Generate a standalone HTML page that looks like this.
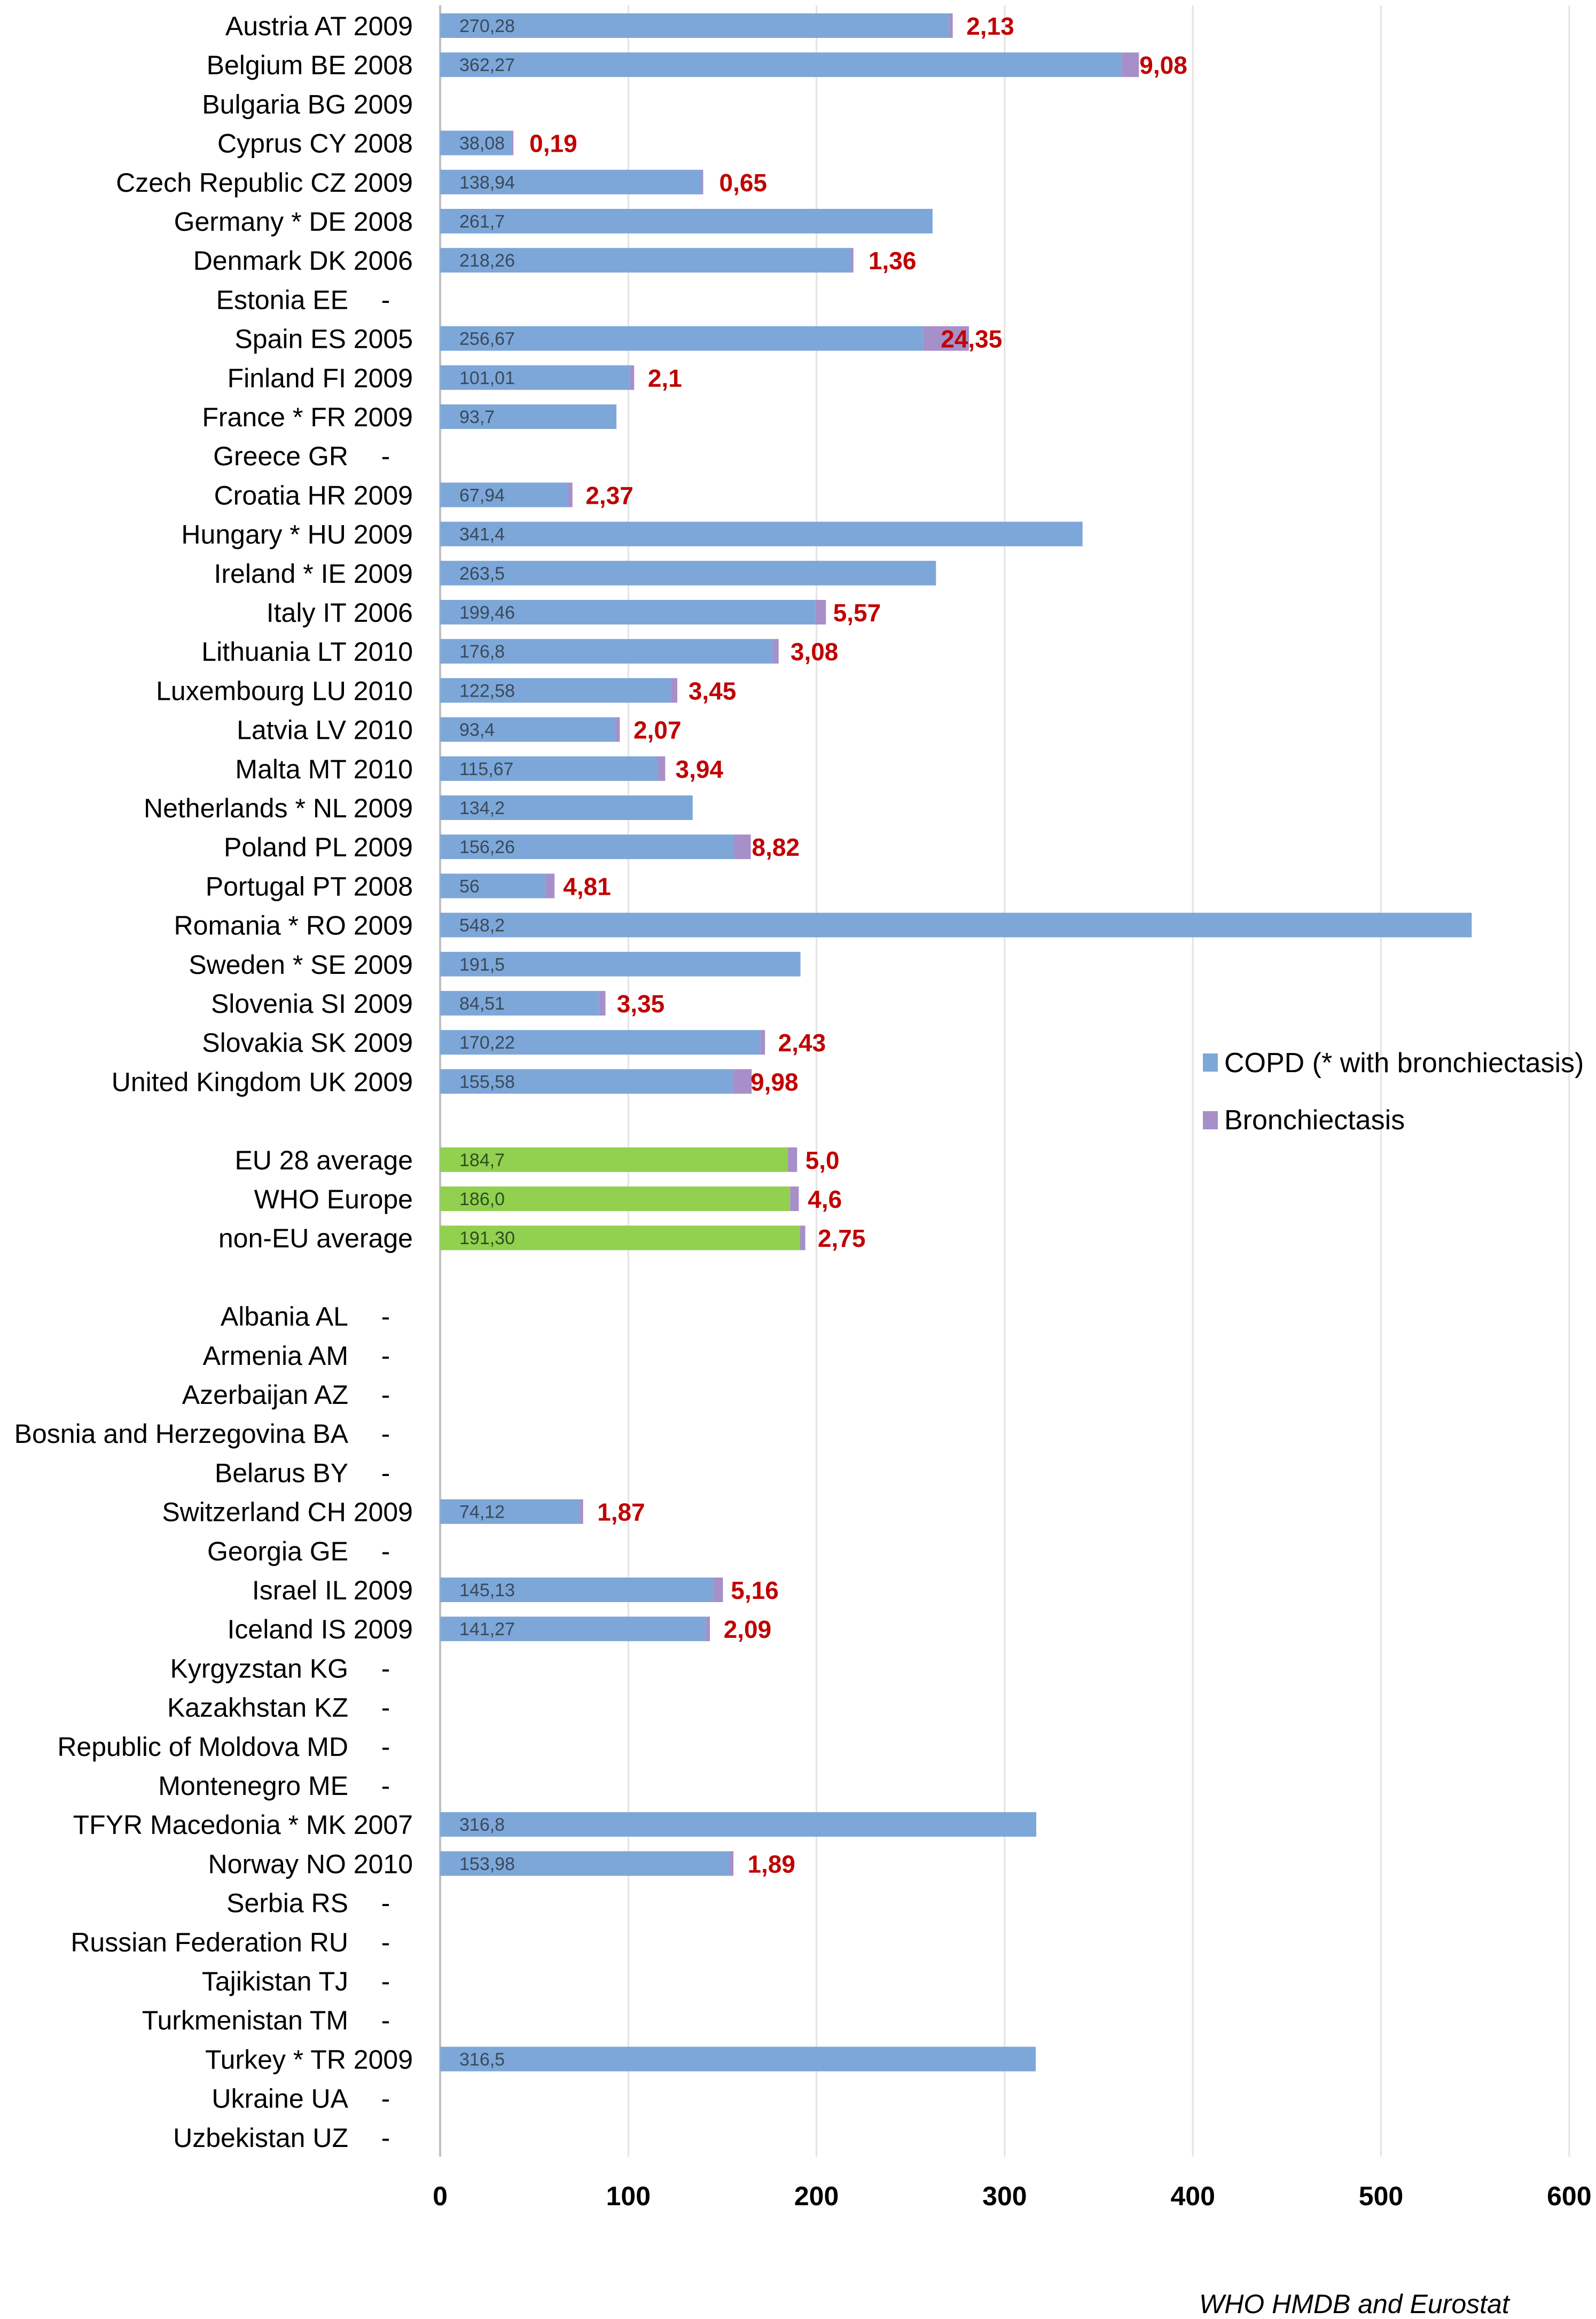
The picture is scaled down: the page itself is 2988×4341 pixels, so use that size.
<!DOCTYPE html>
<html><head><meta charset="utf-8"><style>
html,body{margin:0;padding:0;background:#fff;}
svg{display:block;font-family:"Liberation Sans",sans-serif;}
</style></head><body>
<svg id="chart" width="2988" height="4341" viewBox="0 0 2988 4341" xmlns="http://www.w3.org/2000/svg">
<g id="grid"></g>
<g id="bars"></g>
<g id="labels"></g>
<g id="ticks"></g>
<g>
  <rect x="2252" y="1972" width="28" height="34" fill="#7da7d8"/>
  <text x="2292" y="2007" font-size="52" fill="#000">COPD (* with bronchiectasis)</text>
  <rect x="2252" y="2080" width="28" height="34" fill="#a78fc9"/>
  <text x="2292" y="2114" font-size="52" fill="#000">Bronchiectasis</text>
</g>
<text x="2245" y="4330" font-size="50" font-style="italic" fill="#000">WHO HMDB and Eurostat</text>
</svg>
<script>
const names = ["Austria AT 2009","Belgium BE 2008","Bulgaria BG 2009","Cyprus CY 2008","Czech Republic CZ 2009","Germany * DE 2008","Denmark DK 2006","Estonia EE","Spain ES 2005","Finland FI 2009","France * FR 2009","Greece GR","Croatia HR 2009","Hungary * HU 2009","Ireland * IE 2009","Italy IT 2006","Lithuania LT 2010","Luxembourg LU 2010","Latvia LV 2010","Malta MT 2010","Netherlands * NL 2009","Poland PL 2009","Portugal PT 2008","Romania * RO 2009","Sweden * SE 2009","Slovenia SI 2009","Slovakia SK 2009","United Kingdom UK 2009","","EU 28 average","WHO Europe","non-EU average","","Albania AL","Armenia AM","Azerbaijan AZ","Bosnia and Herzegovina BA","Belarus BY","Switzerland CH 2009","Georgia GE","Israel IL 2009","Iceland IS 2009","Kyrgyzstan KG","Kazakhstan KZ","Republic of Moldova MD","Montenegro ME","TFYR Macedonia * MK 2007","Norway NO 2010","Serbia RS","Russian Federation RU","Tajikistan TJ","Turkmenistan TM","Turkey * TR 2009","Ukraine UA","Uzbekistan UZ"];
const copd = [270.28,362.27,null,38.08,138.94,261.7,218.26,null,256.67,101.01,93.7,null,67.94,341.4,263.5,199.46,176.8,122.58,93.4,115.67,134.2,156.26,56,548.2,191.5,84.51,170.22,155.58,null,184.7,186.0,191.30,null,null,null,null,null,null,74.12,null,145.13,141.27,null,null,null,null,316.8,153.98,null,null,null,null,316.5,null,null];
const copdText = ["270,28","362,27","","38,08","138,94","261,7","218,26","","256,67","101,01","93,7","","67,94","341,4","263,5","199,46","176,8","122,58","93,4","115,67","134,2","156,26","56","548,2","191,5","84,51","170,22","155,58","","184,7","186,0","191,30","","","","","","","74,12","","145,13","141,27","","","","","316,8","153,98","","","","","316,5","",""];
const bronch = [2.13,9.08,null,0.19,0.65,null,1.36,null,24.35,2.1,null,null,2.37,null,null,5.57,3.08,3.45,2.07,3.94,null,8.82,4.81,null,null,3.35,2.43,9.98,null,5.0,4.6,2.75,null,null,null,null,null,null,1.87,null,5.16,2.09,null,null,null,null,null,1.89,null,null,null,null,null,null,null];
const bronchText = ["2,13","9,08","","0,19","0,65","","1,36","","24,35","2,1","","","2,37","","","5,57","3,08","3,45","2,07","3,94","","8,82","4,81","","","3,35","2,43","9,98","","5,0","4,6","2,75","","","","","","","1,87","","5,16","2,09","","","","","","1,89","","","","","","",""];
const dashRows = ["Estonia EE","Greece GR","Albania AL","Armenia AM","Azerbaijan AZ","Bosnia and Herzegovina BA","Belarus BY","Georgia GE","Kyrgyzstan KG","Kazakhstan KZ","Republic of Moldova MD","Montenegro ME","Serbia RS","Russian Federation RU","Tajikistan TJ","Turkmenistan TM","Ukraine UA","Uzbekistan UZ"];
const avgRows = ["EU 28 average","WHO Europe","non-EU average"];
const ticks = [0,100,200,300,400,500,600];

const NS="http://www.w3.org/2000/svg";
const X0=824, PX=352.3, Y0=48, STEP=73.2, BH=46;
const xs=v=>X0+v*PX/100;
const ys=i=>Y0+i*STEP;
function mk(tag,attrs,parent,txt){const e=document.createElementNS(NS,tag);for(const k in attrs)e.setAttribute(k,attrs[k]);if(txt!==undefined)e.textContent=txt;document.getElementById(parent).appendChild(e);return e;}

ticks.forEach(t=>{
  const g=mk('line',{x1:xs(t),x2:xs(t),y1:10,y2:4037,stroke:t===0?'#bfbfbf':'#e3e3e3','stroke-width':t===0?4:3},'grid');
  
  
  const l=mk('text',{x:xs(t),y:4128,'font-size':50,'font-weight':'bold','text-anchor':'middle',fill:'#000'},'ticks',String(t));
  
  
});

names.forEach((n,i)=>{
  if(!n) return;
  const y=ys(i);
  const isDash=dashRows.includes(n);
  const lab=mk('text',{x:isDash?652:773,y:y+18,'font-size':50,'text-anchor':'end',fill:'#000'},'labels',n);
  
  
  if(isDash){
    const d=mk('text',{x:722,y:y+18,'font-size':50,'text-anchor':'middle',fill:'#000'},'labels','-');
    
    
  }
  const c=copd[i];
  if(c==null) return;
  const isAvg=avgRows.includes(n);
  const r=mk('rect',{x:xs(0),y:y-BH/2,width:xs(c)-xs(0),height:BH,fill:isAvg?'#92d050':'#7da7d8'},'bars');
  
  
  const b=bronch[i];
  if(b!=null){
    const rb=mk('rect',{x:xs(c),y:y-BH/2,width:Math.max(xs(c+b)-xs(c),3),height:BH,fill:'#a78fc9'},'bars');
    
    
    const tb=mk('text',{x:xs(c)+33,y:y+17,'font-size':46,'font-weight':'bold',fill:'#c00000'},'bars',bronchText[i]);
    
    
  }
  const tc=mk('text',{x:xs(0)+36,y:y+12,'font-size':34,fill:isAvg?'#2f4f1f':'#3a4a5c'},'bars',copdText[i]);
  
  
});
</script>
</body></html>
